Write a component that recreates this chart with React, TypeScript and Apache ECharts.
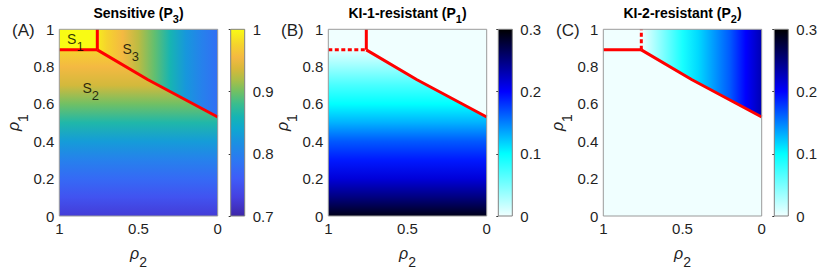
import React, { useEffect, useRef } from "react";
import * as echarts from "echarts";

const FONT = '"Liberation Sans", Arial, Helvetica, sans-serif';
const TEXT = "#1f1f1f";

// ---------- data (rho2, rho1) ----------
const diagBoundary: number[][] = [[0.76, 0.89], [0.44, 0.73], [0, 0.53]];
const horizBoundary: number[][] = [[1, 0.89], [0.76, 0.89]];
const vertBoundary: number[][] = [[0.76, 0.89], [0.76, 1]];

// region S2: values depend on rho1
const rho1Levels = [0, 0.1, 0.2, 0.3, 0.4, 0.5, 0.6, 0.7, 0.8, 0.89];
const sensitiveS2 = [0.725, 0.75, 0.775, 0.8, 0.83, 0.865, 0.9, 0.935, 0.955, 0.975];
const ki1S2 = [0.29, 0.25, 0.215, 0.19, 0.165, 0.13, 0.1, 0.07, 0.035, 0.005];
const ki2S2 = 0;

// region S3: values depend on rho2
const rho2Levels = [0, 0.1, 0.2, 0.3, 0.4, 0.5, 0.6, 0.7, 0.76];
const sensitiveS3 = [0.78, 0.8, 0.825, 0.86, 0.895, 0.925, 0.955, 0.975, 0.99];
const ki2S3 = [0.23, 0.2, 0.165, 0.14, 0.115, 0.09, 0.055, 0.02, 0];
const ki1S3 = 0;

// region S1
const sensitiveS1 = 1;
const ki1S1 = 0;
const ki2S1 = 0;

const panelLetters = ["(A)", "(B)", "(C)"];
const titleMain = ["Sensitive (P", "KI-1-resistant (P", "KI-2-resistant (P"];
const titleSub = ["3", "1", "2"];
const colorbarRanges = [[0.7, 1], [0, 0.3], [0, 0.3]];
const regionLabelText = ["1", "2", "3"];
const regionLabelAnchor = [[0.951, 0.946], [0.854, 0.686], [0.601, 0.897]];

// ---------- colormaps ----------
const parulaStops: [number, string][] = [
  [0.0, "#3E26A8"], [0.1, "#4540E0"], [0.2, "#3F5CF8"], [0.3, "#2C78F2"],
  [0.4, "#1A92E0"], [0.47, "#0FA8CF"], [0.53, "#15B4B4"], [0.6, "#3ABD8E"],
  [0.67, "#74C062"], [0.73, "#ABBE48"], [0.79, "#D8B83A"], [0.85, "#F4B942"],
  [0.92, "#F5D42C"], [1.0, "#F9FB14"],
];
const iceStops: [number, string][] = [
  [0, "#F0FFFF"], [1 / 3, "#00FFFF"], [2 / 3, "#0000FF"], [1, "#000000"],
];

function hexRgb(h: string) {
  return [1, 3, 5].map((i) => parseInt(h.slice(i, i + 2), 16));
}
function cmap(stops: [number, string][], t: number) {
  t = Math.max(0, Math.min(1, t));
  for (let i = 0; i < stops.length - 1; i++) {
    const [t0, c0] = stops[i];
    const [t1, c1] = stops[i + 1];
    if (t <= t1) {
      const f = (t - t0) / (t1 - t0);
      const a = hexRgb(c0), b = hexRgb(c1);
      const c = a.map((v, k) => Math.round(v + (b[k] - v) * f));
      return `rgb(${c[0]},${c[1]},${c[2]})`;
    }
  }
  return stops[stops.length - 1][1];
}

// ---------- geometry ----------
const PLOT_LEFT = [59.3, 328.3, 603.3];
const CB_LEFT = [230.7, 498.3, 774.3];
const TOP = 29.3;
const PW = 158.4;
const PH = 186.7;

const polyS1 = [horizBoundary[0], horizBoundary[1], vertBoundary[1], [1, 1]];
const polyS2 = [[1, 0], [0, 0], ...diagBoundary.slice().reverse(), horizBoundary[0]];
const polyS3 = [vertBoundary[1], ...diagBoundary, [0, 1]];

type Region = { poly: number[][]; value?: number; profile?: { axis: string; levels: number[]; values: number[] } };

const panelRegions: Region[][] = [
  [
    { poly: polyS1, value: sensitiveS1 },
    { poly: polyS2, profile: { axis: "rho1", levels: rho1Levels, values: sensitiveS2 } },
    { poly: polyS3, profile: { axis: "rho2", levels: rho2Levels, values: sensitiveS3 } },
  ],
  [
    { poly: polyS1, value: ki1S1 },
    { poly: polyS2, profile: { axis: "rho1", levels: rho1Levels, values: ki1S2 } },
    { poly: polyS3, value: ki1S3 },
  ],
  [
    { poly: polyS1, value: ki2S1 },
    { poly: polyS2, value: ki2S2 },
    { poly: polyS3, profile: { axis: "rho2", levels: rho2Levels, values: ki2S3 } },
  ],
];
const panelStops = [parulaStops, iceStops, iceStops];
const dashH = [false, true, false];
const dashV = [false, false, true];

export default function App() {
  const ref = useRef<HTMLDivElement>(null);
  useEffect(() => {
    if (!ref.current) return;
    const chart = echarts.init(ref.current, undefined, { renderer: "svg" });

    const grid: any[] = [];
    const xAxis: any[] = [];
    const yAxis: any[] = [];
    const series: any[] = [];
    const graphic: any[] = [];

    const nameRich = {
      r: { fontSize: 16, fontStyle: "italic", lineHeight: 16, verticalAlign: "top", fontFamily: FONT, color: TEXT },
      s: { fontSize: 14, lineHeight: 14, padding: [10, 0, 0, 0], verticalAlign: "top", fontFamily: FONT, color: TEXT },
    };

    for (let p = 0; p < 3; p++) {
      const [vmin, vmax] = colorbarRanges[p];
      const stops = panelStops[p];
      const colorFor = (v: number) => cmap(stops, (v - vmin) / (vmax - vmin));
      const gi = p * 2;
      grid.push({ left: PLOT_LEFT[p], top: TOP, width: PW, height: PH, show: true, z: 10, borderColor: "#9a9a9a", borderWidth: 1, backgroundColor: "transparent" });
      grid.push({ left: CB_LEFT[p], top: TOP, width: 14, height: PH, show: true, z: 10, borderColor: "#808080", borderWidth: 1, backgroundColor: "transparent" });

      xAxis.push({
        gridIndex: gi, type: "value", min: 0, max: 1, interval: 0.5, inverse: true,
        axisLine: { show: false }, axisTick: { show: false }, splitLine: { show: false },
        axisLabel: { fontSize: 15, color: TEXT, margin: 5, fontFamily: FONT, showMinLabel: true, showMaxLabel: true },
        name: "{r|ρ}{s|2}", nameLocation: "middle", nameGap: 29, nameTextStyle: { rich: nameRich },
      });
      yAxis.push({
        gridIndex: gi, type: "value", min: 0, max: 1, interval: 0.2,
        axisLine: { show: false }, axisTick: { show: false }, splitLine: { show: false },
        axisLabel: { fontSize: 15, color: TEXT, margin: 5, fontFamily: FONT, showMinLabel: true, showMaxLabel: true },
        name: "{r|ρ}{s|1}", nameLocation: "middle", nameGap: 37, nameRotate: 90, nameTextStyle: { rich: nameRich },
      });
      xAxis.push({ gridIndex: gi + 1, type: "value", min: 0, max: 1, show: false });
      yAxis.push({
        gridIndex: gi + 1, type: "value", min: vmin, max: vmax, interval: 0.1, position: "right",
        axisLine: { show: false }, splitLine: { show: false },
        axisTick: { show: true, inside: true, length: 2, lineStyle: { color: "#333" } },
        axisLabel: { fontSize: 15, color: TEXT, margin: 8, fontFamily: FONT, formatter: (v: number) => String(Math.round(v * 10) / 10) },
      });

      const regions = panelRegions[p];
      series.push({
        type: "custom", xAxisIndex: gi, yAxisIndex: gi, clip: true, silent: true, z: 1,
        data: regions.map((r) => r.poly[0]),
        renderItem: (params: any, api: any) => {
          const reg = regions[params.dataIndex];
          const pts = reg.poly.map((pt) => api.coord(pt));
          let fill: any;
          if (reg.profile) {
            const { axis, levels, values } = reg.profile;
            const first = levels[0], last = levels[levels.length - 1];
            const a = api.coord(axis === "rho1" ? [1, first] : [first, 1]);
            const b = api.coord(axis === "rho1" ? [1, last] : [last, 1]);
            const gs = levels.map((l, i) => ({ offset: (l - first) / (last - first), color: colorFor(values[i]) }));
            fill = new echarts.graphic.LinearGradient(a[0], a[1], b[0], b[1], gs, true);
          } else {
            fill = colorFor(reg.value as number);
          }
          return { type: "polygon", shape: { points: pts }, style: { fill, stroke: null } };
        },
      });

      const lineBase = { type: "line", xAxisIndex: gi, yAxisIndex: gi, showSymbol: false, symbol: "none", silent: true, z: 5, animation: false };
      series.push({ ...lineBase, data: horizBoundary, lineStyle: { color: "#FF0000", width: 3, type: dashH[p] ? [4, 2.5] : "solid", cap: "butt" } });
      series.push({ ...lineBase, data: vertBoundary, lineStyle: { color: "#FF0000", width: 3, type: dashV[p] ? [4, 2.5] : "solid", cap: "butt" } });
      series.push({ ...lineBase, data: diagBoundary, lineStyle: { color: "#FF0000", width: 3, type: "solid", join: "round" } });

      series.push({
        type: "custom", xAxisIndex: gi + 1, yAxisIndex: gi + 1, silent: true, z: 1,
        data: [[0, vmin]],
        renderItem: (params: any, api: any) => {
          const p0 = api.coord([0, vmin]);
          const p1 = api.coord([1, vmax]);
          const gs = stops.map(([t, c]) => ({ offset: t, color: c }));
          return {
            type: "rect",
            shape: { x: p0[0], y: p1[1], width: p1[0] - p0[0], height: p0[1] - p1[1] },
            style: { fill: new echarts.graphic.LinearGradient(0, 1, 0, 0, gs) },
          };
        },
      });

      const cx = PLOT_LEFT[p] + PW / 2;
      graphic.push({
        type: "text", x: cx, y: 6.4, silent: true,
        style: {
          text: `{b|${titleMain[p]}}{s|${titleSub[p]}}{b|)}`,
          align: "center", verticalAlign: "top",
          rich: {
            b: { fontSize: 14, fontWeight: "bold", lineHeight: 14, verticalAlign: "top", fontFamily: FONT, fill: "#000" },
            s: { fontSize: 11, fontWeight: "bold", lineHeight: 11, padding: [7, 0, 0, 0], verticalAlign: "top", fontFamily: FONT, fill: "#000" },
          },
        },
      });
      graphic.push({
        type: "text", x: [12, 281, 556][p], y: 30, silent: true,
        style: { text: panelLetters[p], fontSize: 17, fontFamily: FONT, fill: TEXT, align: "left", verticalAlign: "middle" },
      });
    }

    series.push({
      type: "scatter", xAxisIndex: 0, yAxisIndex: 0, symbolSize: 0, silent: true, z: 6,
      data: regionLabelAnchor.map((a, i) => ({ value: a, name: regionLabelText[i] })),
      label: {
        show: true, position: "right", distance: 0,
        formatter: (prm: any) => `{m|S}{s|${prm.name}}`,
        rich: {
          m: { fontSize: 14, lineHeight: 14, verticalAlign: "top", fontFamily: FONT, color: "#000" },
          s: { fontSize: 13, lineHeight: 13, padding: [8, 0, 0, 0], verticalAlign: "top", fontFamily: FONT, color: "#000" },
        },
      },
    });

    chart.setOption({
      animation: false,
      backgroundColor: "#ffffff",
      textStyle: { fontFamily: FONT },
      grid, xAxis, yAxis, series, graphic,
    });
    return () => chart.dispose();
  }, []);

  return <div ref={ref} style={{ position: "absolute", left: 0, top: 0, width: 834, height: 275, background: "#fff" }} />;
}
